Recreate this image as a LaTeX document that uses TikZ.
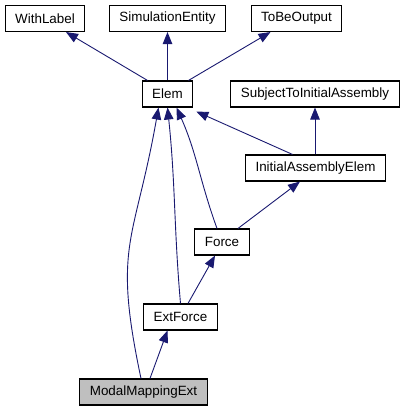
\documentclass[tikz,border=0pt]{standalone}
\usepackage{fontspec}
\setmainfont{Liberation Sans}
\usepackage{tikz}
\usetikzlibrary{arrows.meta,positioning,calc}
\definecolor{edgecolor}{RGB}{25,25,112}
\definecolor{curcolor}{RGB}{191,191,191}
\tikzstyle{every node}=[font=\fontsize{13.4}{16}\selectfont]
\tikzstyle{cls}=[rectangle,draw=black,line width=1.1pt,fill=white,minimum height=26pt,inner xsep=10pt,inner ysep=0pt]
\tikzstyle{cur cls}=[cls, fill=curcolor]
\tikzstyle{inherit} = [-{Triangle[length=12pt,width=9.5pt]},line width=0.9pt,edgecolor]

\begin{document}
\begin{tikzpicture}[x=1pt,y=1pt]
\useasboundingbox (0,0) rectangle (407,411);
\def\toprow{392.5}
\def\secrow{317}

    % base classes
    \foreach \name / \x / \txt in {WL/45/WithLabel, SE/167.5/SimulationEntity, TBO/296.5/ToBeOutput}
        \node[cls] (\name) at (\x,\toprow) {\txt};

    \node[cls] (Elem) at (167.5,\secrow) {Elem};
    \node[cls] (STIA) at (315,\secrow) {SubjectToInitialAssembly};
    \node[cls] (IAE) at (315.5,243) {InitialAssemblyElem};
    \node[cls] (Force) at (222,169) {Force};
    \node[cls] (ExtForce) at (180.5,94) {ExtForce};
    \node[cur cls] (MME) at (143.5,19) {ModalMappingExt};

    \path ([xshift=-20pt]Elem.north) edge[inherit] ([xshift=21pt]WL.south);
    \path (Elem.north) edge[inherit] (SE.south);
    \path ([xshift=21pt]Elem.north) edge[inherit] ([xshift=-26pt]TBO.south);

    \path ([xshift=-23pt]IAE.north) edge[inherit] ([xshift=3pt,yshift=-4pt]Elem.south east);
    \path ([xshift=-0.5pt]IAE.north) edge[inherit] (STIA.south);

    \path ([xshift=16pt]Force.north) edge[inherit] ([xshift=-15.5pt]IAE.south);
    \path ([xshift=-5pt]Force.north) edge[inherit, out=110, in=-66] ([xshift=9pt]Elem.south);

    \path ([xshift=7.5pt]ExtForce.north) edge[inherit] ([xshift=-7pt]Force.south);
    \path (ExtForce.north) edge[inherit, out=95, in=-84] (Elem.south);

    \path ([xshift=6.5pt]MME.north) edge[inherit] ([xshift=-13pt]ExtForce.south);
    \path ([xshift=-2.5pt]MME.north) edge[inherit, out=102, in=-100, looseness=1.3] ([xshift=-9pt]Elem.south);

\end{tikzpicture}
\end{document}
